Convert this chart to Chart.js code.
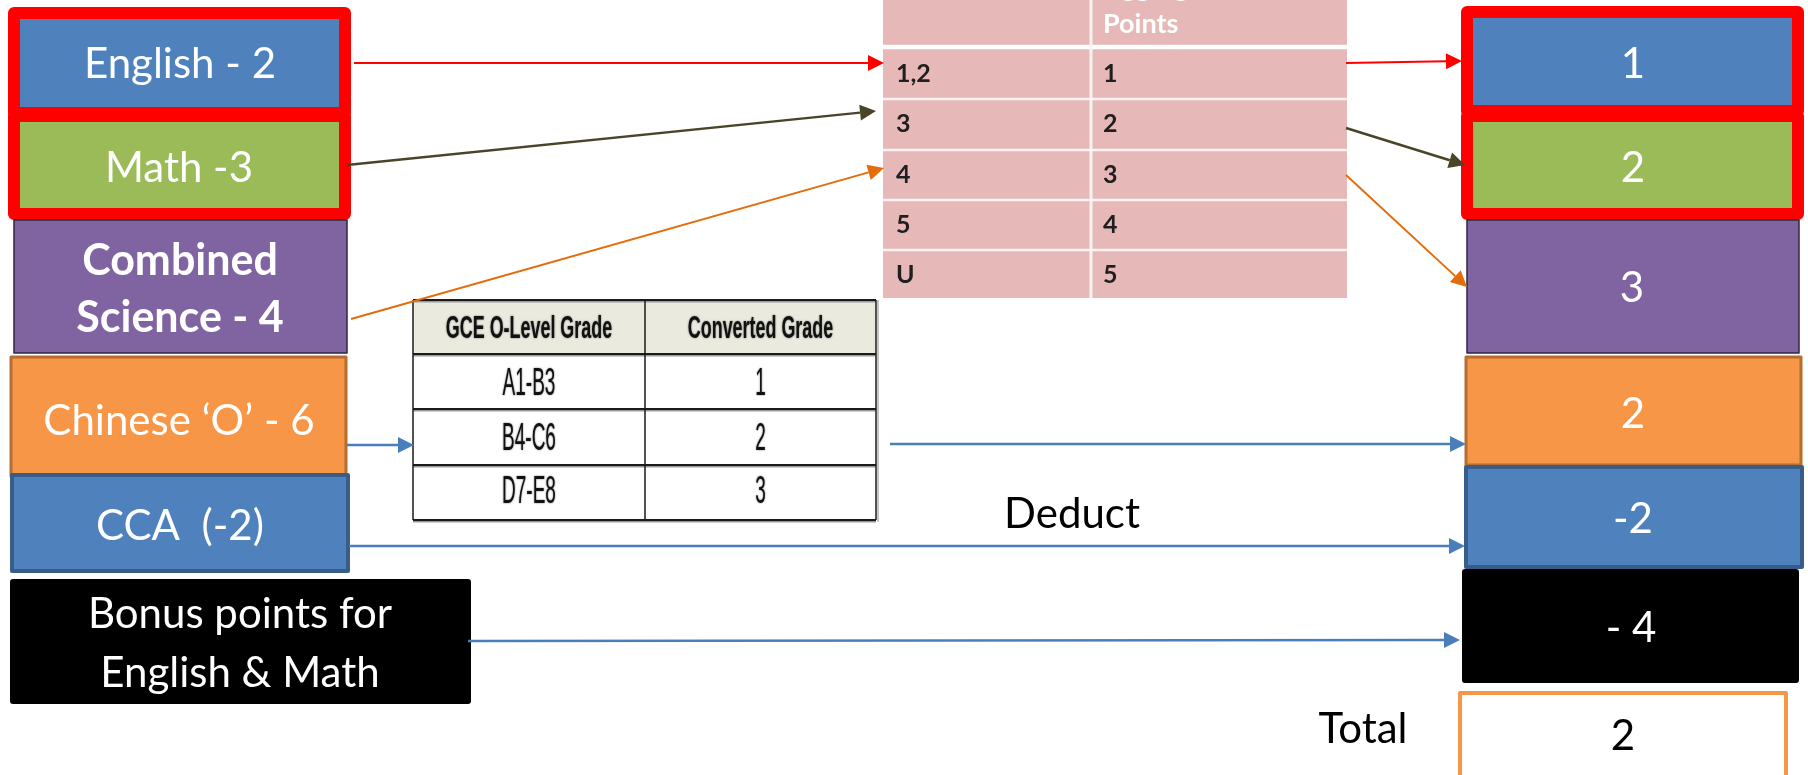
<!DOCTYPE html>
<html>
<head>
<meta charset="utf-8">
<title>Aggregate points</title>
<script src="https://cdn.jsdelivr.net/npm/chart.js@4.4.1/dist/chart.umd.min.js"></script>
<style>
  html, body { margin: 0; padding: 0; background: #fff; }
  #wrap { width: 1808px; height: 775px; position: relative; }
</style>
</head>
<body>
<div id="wrap"><canvas id="diagram"></canvas></div>
<script>
// subjects on the left, the points they become on the right
const subjectLabels = [["English - 2"], ["Math -3"], ["Combined", "Science - 4"], ["Chinese ‘O’ - 6"], ["CCA  (-2)"], ["Bonus points for", "English & Math"]];
const pointValues = ["1", "2", "3", "2", "-2", "- 4"];
const totalLabel = "Total";
const totalValue = "2";
const deductLabel = "Deduct";

// grade -> aggregate points table
const aggHeader = ["Aggregate", "Points"];
const aggGrades = ["1,2", "3", "4", "5", "U"];
const aggPoints = ["1", "2", "3", "4", "5"];

// GCE O-Level conversion table
const gceHeader = ["GCE O-Level Grade", "Converted Grade"];
const gceGrades = ["A1-B3", "B4-C6", "D7-E8"];
const gceConverted = ["1", "2", "3"];

// ---- layout (axis units = pixels of the 1808x775 frame) ----
const BLUE = '#4f81bd', GREEN = '#9bbb59', PURPLE = '#8064a2', ORANGE = '#f79646';
const RED = '#ff0000', OLIVE = '#494529', DARKORANGE = '#e46c0a', ARROWBLUE = '#4a7ebb';

const leftBoxes = [
    { x0: 14, y0: 13, x1: 345, y1: 113, fill: BLUE, stroke: RED, lw: 12 },
    { x0: 14, y0: 116, x1: 345, y1: 214, fill: GREEN, stroke: RED, lw: 12 },
    { x0: 14, y0: 220, x1: 347, y1: 353, fill: PURPLE, stroke: '#2f2540', lw: 1.5 },
    { x0: 11, y0: 357, x1: 346, y1: 476, fill: ORANGE, stroke: '#b66d31', lw: 3 },
    { x0: 12, y0: 475, x1: 348, y1: 571, fill: BLUE, stroke: '#385d8a', lw: 4 },
    { x0: 10, y0: 579, x1: 471, y1: 704, fill: '#000000' }
];
const leftText = [
    { cx: 180, base: [78], size: 42, bold: false, w: [196] },
    { cx: 179, base: [182], size: 42, bold: false, w: [152] },
    { cx: 180, base: [275, 332], size: 43, bold: true, w: [203, 210] },
    { cx: 179, base: [435], size: 42, bold: false, w: [280] },
    { cx: 180, base: [540], size: 42, bold: false, w: [168] },
    { cx: 240, base: [628, 687], size: 42, bold: false, w: [317, 292] }
];
const rightBoxes = [
    { x0: 1467, y0: 12, x1: 1798, y1: 111, fill: BLUE, stroke: RED, lw: 12 },
    { x0: 1467, y0: 116, x1: 1798, y1: 214, fill: GREEN, stroke: RED, lw: 12 },
    { x0: 1467, y0: 220, x1: 1799, y1: 353, fill: PURPLE, stroke: '#2f2540', lw: 1.5 },
    { x0: 1466, y0: 357, x1: 1801, y1: 465, fill: ORANGE, stroke: '#b66d31', lw: 3 },
    { x0: 1466, y0: 467, x1: 1802, y1: 567, fill: BLUE, stroke: '#385d8a', lw: 4 },
    { x0: 1462, y0: 569, x1: 1799, y1: 683, fill: '#000000' }
];
const rightText = [
    { cx: 1633, base: 78 }, { cx: 1633, base: 182 }, { cx: 1632, base: 302 },
    { cx: 1633, base: 428 }, { cx: 1633, base: 533 }, { cx: 1631, base: 642 }
];
const totalBox = { x0: 1460, y0: 693, x1: 1786, y1: 790, fill: '#ffffff', stroke: ORANGE, lw: 4 };

const aggTable = { x0: 883, x1: 1347, split: 1091, head: 47, rows: [49, 99, 150, 200, 250, 298] };
const gceTable = { x0: 413, x1: 876, split: 645, rows: [300, 354, 409, 465, 520], base: [395, 450, 503] };

const arrows = [
    { from: [354, 63], to: [884, 63], color: RED, lw: 2 },
    { from: [347, 165], to: [876, 111], color: OLIVE, lw: 2.5 },
    { from: [351, 319], to: [884, 168], color: DARKORANGE, lw: 2 },
    { from: [347, 445], to: [414, 445], color: ARROWBLUE, lw: 2.5 },
    { from: [1346, 63], to: [1462, 61], color: RED, lw: 2 },
    { from: [1346, 128], to: [1465, 165], color: OLIVE, lw: 2.5 },
    { from: [1346, 175], to: [1467, 287], color: DARKORANGE, lw: 2 },
    { from: [890, 444], to: [1466, 444], color: ARROWBLUE, lw: 2.5 },
    { from: [349, 546], to: [1465, 546], color: ARROWBLUE, lw: 2.5 },
    { from: [468, 641], to: [1460, 640], color: ARROWBLUE, lw: 2.5 }
];

// ---- drawing helpers ----
function X(chart, v) { return chart.scales.x.getPixelForValue(v); }
function Y(chart, v) { return chart.scales.y.getPixelForValue(v); }

function fillBox(chart, b) {
    const ctx = chart.ctx;
    const x0 = X(chart, b.x0), x1 = X(chart, b.x1), y0 = Y(chart, b.y0), y1 = Y(chart, b.y1);
    ctx.fillStyle = b.fill;
    if (b.lw) {
        ctx.fillRect(x0, y0, x1 - x0, y1 - y0);
    } else {
        ctx.beginPath();
        ctx.roundRect(x0, y0, x1 - x0, y1 - y0, 3);
        ctx.fill();
    }
}

function strokeBox(chart, b) {
    if (!b.stroke) return;
    const ctx = chart.ctx;
    const x0 = X(chart, b.x0), x1 = X(chart, b.x1), y0 = Y(chart, b.y0), y1 = Y(chart, b.y1);
    ctx.strokeStyle = b.stroke;
    ctx.lineWidth = b.lw;
    ctx.lineJoin = 'round';
    ctx.strokeRect(x0, y0, x1 - x0, y1 - y0);
}

function text(chart, str, x, y, opts) {
    const ctx = chart.ctx;
    ctx.save();
    ctx.font = (opts.bold ? 'bold ' : '') + opts.size + 'px ' + (opts.family || 'Lato');
    ctx.fillStyle = opts.color || '#fff';
    ctx.textAlign = opts.align || 'center';
    ctx.textBaseline = 'alphabetic';
    if (opts.shadow) {
        ctx.shadowColor = 'rgba(0,0,0,0.55)';
        ctx.shadowBlur = 2;
    }
    ctx.translate(X(chart, x), Y(chart, y));
    if (opts.sx) ctx.scale(opts.sx, 1);
    if (opts.w) ctx.fillText(str, 0, 0, opts.w);
    else ctx.fillText(str, 0, 0);
    ctx.restore();
}

function arrow(chart, a) {
    const ctx = chart.ctx;
    const x0 = X(chart, a.from[0]), y0 = Y(chart, a.from[1]);
    const x1 = X(chart, a.to[0]), y1 = Y(chart, a.to[1]);
    const ang = Math.atan2(y1 - y0, x1 - x0);
    const len = 16, half = 8;
    const bx = x1 - len * Math.cos(ang), by = y1 - len * Math.sin(ang);
    ctx.strokeStyle = a.color;
    ctx.lineWidth = a.lw;
    ctx.beginPath();
    ctx.moveTo(x0, y0);
    ctx.lineTo(bx, by);
    ctx.stroke();
    ctx.fillStyle = a.color;
    ctx.beginPath();
    ctx.moveTo(x1, y1);
    ctx.lineTo(bx + half * Math.sin(ang), by - half * Math.cos(ang));
    ctx.lineTo(bx - half * Math.sin(ang), by + half * Math.cos(ang));
    ctx.closePath();
    ctx.fill();
}

function hline(chart, x0, x1, y, color, lw) {
    const ctx = chart.ctx;
    ctx.strokeStyle = color;
    ctx.lineWidth = lw;
    ctx.beginPath();
    ctx.moveTo(X(chart, x0), Y(chart, y));
    ctx.lineTo(X(chart, x1), Y(chart, y));
    ctx.stroke();
}

function vline(chart, x, y0, y1, color, lw) {
    const ctx = chart.ctx;
    ctx.strokeStyle = color;
    ctx.lineWidth = lw;
    ctx.beginPath();
    ctx.moveTo(X(chart, x), Y(chart, y0));
    ctx.lineTo(X(chart, x), Y(chart, y1));
    ctx.stroke();
}

function drawAggTable(chart) {
    const t = aggTable;
    const ctx = chart.ctx;
    ctx.fillStyle = '#e6b9b8';
    ctx.fillRect(X(chart, t.x0), Y(chart, 0), X(chart, t.x1) - X(chart, t.x0), Y(chart, t.rows[5]) - Y(chart, 0));
    hline(chart, t.x0, t.x1, t.head, '#ffffff', 4.5);
    for (let i = 1; i < 5; i++) hline(chart, t.x0, t.x1, t.rows[i], '#fdf3f3', 2.5);
    vline(chart, t.split, 0, t.rows[5], '#fdf3f3', 3);
    text(chart, aggHeader[0], t.split + 12, -3, { size: 27, color: '#ffffff', align: 'left', bold: true });
    text(chart, aggHeader[1], t.split + 12, 33, { size: 27, color: '#ffffff', align: 'left', bold: true });
    aggGrades.forEach((g, i) => {
        const base = t.rows[i] + 33;
        text(chart, g, t.x0 + 13, base, { size: 25, color: '#1f1f1f', align: 'left', bold: true });
        text(chart, aggPoints[i], t.split + 12, base, { size: 25, color: '#1f1f1f', align: 'left', bold: true });
    });
}

function drawGceTable(chart) {
    const t = gceTable;
    const ctx = chart.ctx;
    ctx.fillStyle = '#ffffff';
    ctx.fillRect(X(chart, t.x0), Y(chart, t.rows[0]), X(chart, t.x1) - X(chart, t.x0), Y(chart, t.rows[4]) - Y(chart, t.rows[0]));
    ctx.fillStyle = '#eaeadf';
    ctx.fillRect(X(chart, t.x0), Y(chart, t.rows[0]), X(chart, t.x1) - X(chart, t.x0), Y(chart, t.rows[1]) - Y(chart, t.rows[0]));
    t.rows.forEach(r => {
        hline(chart, t.x0, t.x1, r + 1.5, '#9a9a9a', 2);
        hline(chart, t.x0, t.x1, r, '#1a1a1a', 2);
    });
    vline(chart, t.x0, t.rows[0], t.rows[4], '#1a1a1a', 1.5);
    vline(chart, t.split, t.rows[0], t.rows[4], '#1a1a1a', 1.5);
    vline(chart, t.x1, t.rows[0], t.rows[4], '#1a1a1a', 1.5);
    vline(chart, t.x1 + 2, t.rows[0], t.rows[4] + 2, '#b0b0b0', 1.5);
    const c1 = (t.x0 + t.split) / 2, c2 = (t.split + t.x1) / 2;
    const head = { size: 32, bold: true, color: '#111', family: 'Liberation Sans', sx: 0.56, shadow: true };
    text(chart, gceHeader[0], c1, 338, head);
    text(chart, gceHeader[1], c2, 338, head);
    const cell = { size: 38, color: '#111', family: 'Liberation Sans', sx: 0.5, shadow: true };
    gceGrades.forEach((g, i) => {
        text(chart, g, c1, t.base[i], cell);
        text(chart, gceConverted[i], c2, t.base[i], cell);
    });
}

const diagramPlugin = {
    id: 'diagram',
    afterDraw(chart) {
        drawAggTable(chart);
        drawGceTable(chart);

        // boxes: fills first so the shared red frames overlap cleanly
        leftBoxes.forEach(b => fillBox(chart, b));
        rightBoxes.forEach(b => fillBox(chart, b));
        fillBox(chart, totalBox);
        leftBoxes.forEach(b => strokeBox(chart, b));
        rightBoxes.forEach(b => strokeBox(chart, b));
        strokeBox(chart, totalBox);

        subjectLabels.forEach((lines, i) => {
            const s = leftText[i];
            lines.forEach((line, j) => {
                text(chart, line, s.cx, s.base[j], { size: s.size, bold: s.bold, w: s.w[j] });
            });
        });
        pointValues.forEach((v, i) => {
            text(chart, v, rightText[i].cx, rightText[i].base, { size: 42 });
        });
        text(chart, totalValue, 1623, 750, { size: 42, color: '#000' });
        text(chart, totalLabel, 1363, 743, { size: 42, color: '#000', w: 92 });
        text(chart, deductLabel, 1072, 528, { size: 42, color: '#000', w: 139 });

        arrows.forEach(a => arrow(chart, a));
    }
};

new Chart(document.getElementById('diagram'), {
    type: 'scatter',
    data: { datasets: [{ data: [] }] },
    options: {
        responsive: true,
        maintainAspectRatio: false,
        devicePixelRatio: 1,
        animation: false,
        layout: { padding: 0 },
        plugins: { legend: { display: false }, tooltip: { enabled: false } },
        scales: {
            x: { type: 'linear', min: 0, max: 1808, display: false },
            y: { type: 'linear', min: 0, max: 775, reverse: true, display: false }
        }
    },
    plugins: [diagramPlugin]
});
</script>
</body>
</html>
